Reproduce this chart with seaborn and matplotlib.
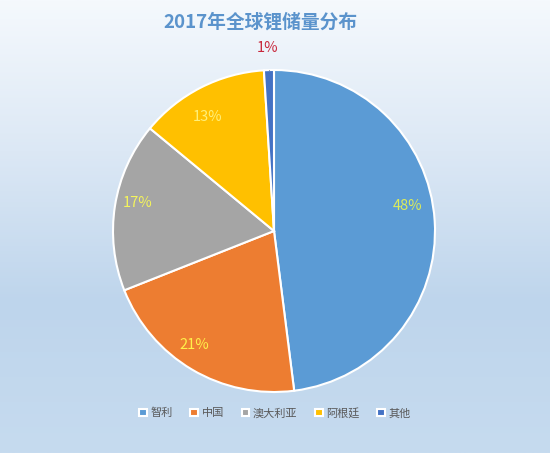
import numpy as np
import matplotlib.pyplot as plt
import matplotlib.transforms as mtransforms
import seaborn as sns
from matplotlib.colors import LinearSegmentedColormap

# Data
countries = ['智利', '中国', '澳大利亚', '阿根廷', '其他']
shares = [48, 21, 17, 13, 1]
slice_colors = ['#5B9BD5', '#ED7D31', '#A5A5A5', '#FFC000', '#4472C4']
label_colors = ['#dcec5a', '#fff04a', '#f4f45c', '#fff07a', '#c8283c']
title = '2017年全球锂储量分布'

# label nudges in points (Excel places its labels a bit differently)
label_nudge = [(-2, 12), (-7, 3), (-1, 5), (-3, -6), (0, 0)]

sns.set_theme(style='white')
plt.rcParams['font.family'] = ['Noto Sans CJK SC', 'DejaVu Sans']

fig = plt.figure(figsize=(5.5, 4.53), dpi=100)

# Gradient background
bg = fig.add_axes([0, 0, 1, 1], zorder=-1)
grad_cmap = LinearSegmentedColormap.from_list('bg', ['#f5f9fd', '#dce8f5', '#bed5ec', '#c6dbef'])
bg.imshow(np.linspace(0, 1, 256).reshape(-1, 1), aspect='auto', cmap=grad_cmap,
          extent=[0, 1, 0, 1])
bg.axis('off')

# Pie axes: centre ~ (274, 231) px, radius ~161 px
w = 322 / 550
h = 322 / 453
cx = 274 / 550
cy = 1 - 231 / 453
ax = fig.add_axes([cx - w / 2, cy - h / 2, w, h])
ax.patch.set_alpha(0)

wedges, texts, autotexts = ax.pie(
    shares, colors=slice_colors, startangle=90, counterclock=False,
    autopct=lambda p: f'{p:.0f}%', pctdistance=0.85,
    wedgeprops=dict(edgecolor='white', linewidth=1.5),
    textprops=dict(fontsize=10.5))

for t, c, (dx, dy) in zip(autotexts, label_colors, label_nudge):
    t.set_color(c)
    t.set_transform(t.get_transform() + mtransforms.ScaledTranslation(dx / 72, dy / 72, fig.dpi_scale_trans))

# Small slice label outside with leader line
theta = np.deg2rad((wedges[-1].theta1 + wedges[-1].theta2) / 2)
x0, y0 = np.cos(theta), np.sin(theta)
autotexts[-1].set_position((x0 - 0.01, 1.135))
ax.plot([x0, x0], [y0, 1.07], color='#8c9aa8', linewidth=0.8)

ax.set_xlim(-1, 1)
ax.set_ylim(-1, 1)
ax.set_aspect('equal')
ax.axis('off')

fig.text(260 / 550, 1 - 22 / 453, title, ha='center', va='center',
         fontsize=13.5, fontweight='bold', color='#5b93cc')

fig.legend(wedges, countries, loc='center', bbox_to_anchor=(0.5, 1 - 413 / 453),
           ncol=5, frameon=False, fontsize=8, handlelength=0.7, handleheight=0.7,
           handletextpad=0.3, columnspacing=1.6, labelcolor='#595959')

fig.savefig('out.png', dpi=100)
